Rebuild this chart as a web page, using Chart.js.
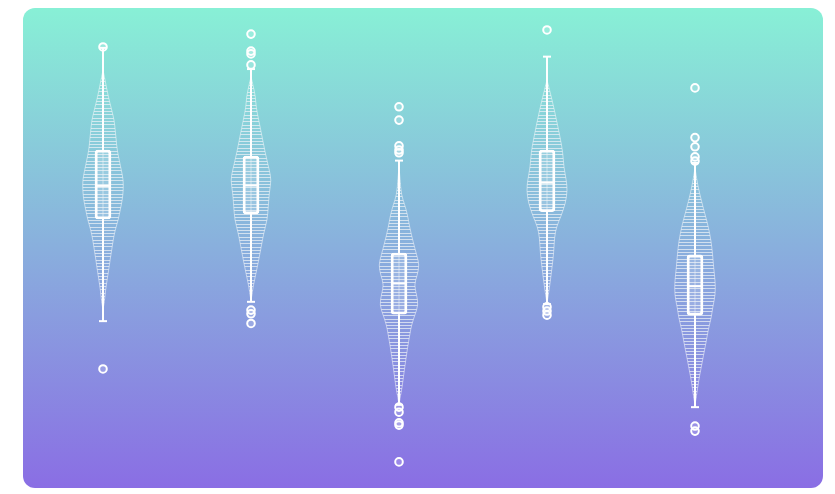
<!DOCTYPE html>
<html>
<head>
<meta charset="utf-8">
<script src="https://cdn.jsdelivr.net/npm/chart.js@4/dist/chart.umd.min.js"></script>
<style>
  html, body { margin: 0; padding: 0; background: #fff; }
  #wrap { width: 835px; height: 494px; }
</style>
</head>
<body>
<div id="wrap"><canvas id="chart"></canvas></div>
<script>
const categories = [0, 1, 2, 3, 4];
const mins = [34.1, 38.3, 15.9, 37.8, 15.4];
const q1s = [56.3, 57.4, 35.6, 57.9, 35.4];
const medians = [63.5, 63.6, 42.3, 64.2, 41.7];
const q3s = [71.3, 70.0, 48.9, 71.3, 48.5];
const maxs = [93.5, 88.9, 69.0, 91.6, 68.5];
const outliers = [
  [93.7, 23.7],
  [96.5, 92.8, 92.2, 89.8, 36.5, 35.7, 33.6],
  [80.7, 77.8, 72.2, 71.3, 70.7, 15.4, 14.3, 12.0, 11.5, 3.5],
  [97.4, 37.2, 36.3, 35.4],
  [84.8, 74.0, 72.0, 69.8, 68.9, 11.3, 10.2],
];

// violin outlines: value levels and relative density at each level
const violin1Y = [88.7, 86.5, 84.3, 82.2, 80.0, 77.8, 75.7, 73.5, 71.3, 69.1, 67.0, 64.8, 62.6, 60.4, 58.3, 56.1, 53.9, 51.7, 49.6, 47.4, 45.2, 43.0, 40.9, 38.7, 36.5];
const violin1D = [0, 0.1, 0.2, 0.3, 0.43, 0.55, 0.6, 0.65, 0.7, 0.8, 0.9, 1.0, 1.0, 0.95, 0.85, 0.75, 0.6, 0.5, 0.43, 0.35, 0.28, 0.2, 0.13, 0.08, 0];
const violin2Y = [87.2, 85.0, 82.8, 80.7, 77.8, 74.1, 70.7, 67.0, 64.8, 62.0, 58.9, 56.1, 53.3, 50.2, 47.4, 44.6, 41.5, 39.3, 38.5];
const violin2D = [0, 0.12, 0.22, 0.25, 0.38, 0.55, 0.7, 0.9, 1.0, 0.9, 0.85, 0.8, 0.63, 0.5, 0.38, 0.25, 0.1, 0.03, 0];
const violin3Y = [68.0, 64.8, 61.5, 59.4, 57.2, 54.4, 51.3, 48.5, 46.3, 44.1, 42.0, 39.8, 37.6, 35.4, 33.3, 31.1, 28.3, 25.2, 22.4, 19.6, 17.4, 15.9];
const violin3D = [0, 0.05, 0.12, 0.28, 0.42, 0.53, 0.7, 0.87, 1.0, 0.9, 0.75, 0.87, 0.95, 0.78, 0.62, 0.53, 0.42, 0.32, 0.23, 0.15, 0.05, 0];
const violin4Y = [86.5, 82.2, 77.8, 73.5, 70.7, 67.6, 64.8, 62.6, 59.8, 56.7, 54.6, 52.4, 48.9, 45.9, 43.0, 40.2, 38.0];
const violin4D = [0, 0.25, 0.47, 0.67, 0.78, 0.83, 0.95, 1.0, 0.92, 0.67, 0.47, 0.37, 0.33, 0.25, 0.17, 0.08, 0];
const violin5Y = [67.4, 63.7, 60.0, 57.2, 54.4, 51.3, 48.5, 45.7, 42.6, 39.8, 37.0, 34.8, 32.6, 29.6, 26.7, 23.9, 20.9, 18.0, 15.9];
const violin5D = [0, 0.13, 0.33, 0.5, 0.67, 0.8, 0.87, 0.92, 1.0, 1.0, 0.87, 0.8, 0.67, 0.55, 0.42, 0.3, 0.17, 0.08, 0];

const violinLevels = [violin1Y, violin2Y, violin3Y, violin4Y, violin5Y];
const violinDensity = [violin1D, violin2D, violin3D, violin4D, violin5D];
const violinHalfWidth = 0.137; // in category units

const backdrop = {
  id: "backdrop",
  beforeDraw(chart) {
    const ctx = chart.ctx;
    ctx.save();
    const g = ctx.createLinearGradient(0, 8, 0, 488);
    g.addColorStop(0, "#88f0d6");
    g.addColorStop(1, "#8a6ee4");
    ctx.fillStyle = g;
    ctx.beginPath();
    ctx.roundRect(23, 8, 800, 480, 12);
    ctx.fill();
    ctx.restore();
  },
};

// smooth outline through the density points
function tracePath(ctx, pts) {
  ctx.moveTo(pts[0][0], pts[0][1]);
  for (let k = 1; k < pts.length - 1; k++) {
    const mx = (pts[k][0] + pts[k + 1][0]) / 2;
    const my = (pts[k][1] + pts[k + 1][1]) / 2;
    ctx.quadraticCurveTo(pts[k][0], pts[k][1], mx, my);
  }
  const last = pts[pts.length - 1];
  ctx.lineTo(last[0], last[1]);
}

const violinPlugin = {
  id: "violin",
  beforeDatasetsDraw(chart) {
    const { ctx, scales } = chart;
    const x = scales.x, y = scales.y;
    violinLevels.forEach((levels, i) => {
      const dens = violinDensity[i];
      const cx = x.getPixelForValue(categories[i]);
      const left = levels.map((v, k) => [x.getPixelForValue(categories[i] - dens[k] * violinHalfWidth), y.getPixelForValue(v)]);
      const right = levels.map((v, k) => [x.getPixelForValue(categories[i] + dens[k] * violinHalfWidth), y.getPixelForValue(v)]).reverse();
      ctx.save();
      ctx.beginPath();
      tracePath(ctx, left);
      const r0 = right[0];
      ctx.lineTo(r0[0], r0[1]);
      tracePath(ctx, right);
      ctx.closePath();
      ctx.strokeStyle = "rgba(255,255,255,0.5)";
      ctx.lineWidth = 1;
      ctx.stroke();
      ctx.clip();
      ctx.strokeStyle = "rgba(238,242,246,0.72)";
      ctx.beginPath();
      const top = left[0][1], bottom = left[left.length - 1][1];
      for (let py = top + 1.5; py < bottom; py += 3.3) {
        const yy = Math.round(py) + 0.5;
        ctx.moveTo(cx - 30, yy);
        ctx.lineTo(cx + 30, yy);
      }
      ctx.stroke();
      ctx.restore();
    });
  },
};

const whiskerPoints = [];
const whiskerRadius = [];
categories.forEach((c, i) => {
  whiskerPoints.push(
    { x: c, y: mins[i] }, { x: c, y: q1s[i] }, { x: c, y: null },
    { x: c, y: q3s[i] }, { x: c, y: maxs[i] }, { x: c, y: null }
  );
  whiskerRadius.push(4, 0, 0, 0, 4, 0);
});

const outlierPoints = [];
categories.forEach((c, i) => outliers[i].forEach((v) => outlierPoints.push({ x: c, y: v })));

const data = {
  datasets: [
    {
      type: "scatter",
      label: "Outliers",
      data: outlierPoints,
      pointStyle: "circle",
      pointRadius: 3.8,
      pointBorderWidth: 2,
      borderColor: "#ffffff",
      backgroundColor: "rgba(255,255,255,0.15)",
      order: 0,
      clip: false,
    },
    {
      type: "scatter",
      label: "Median",
      data: categories.map((c, i) => ({ x: c, y: medians[i] })),
      pointStyle: "line",
      pointRadius: 8,
      pointBorderWidth: 2,
      borderColor: "#ffffff",
      order: 1,
      clip: false,
    },
    {
      type: "bar",
      label: "Box",
      data: categories.map((c, i) => ({ x: c, y: [q1s[i], q3s[i]] })),
      barThickness: 16,
      borderWidth: 2.2,
      borderRadius: 3,
      borderSkipped: false,
      borderColor: "#ffffff",
      backgroundColor: "rgba(255,255,255,0.14)",
      order: 2,
      clip: false,
    },
    {
      type: "line",
      label: "Whiskers",
      data: whiskerPoints,
      spanGaps: false,
      borderColor: "#ffffff",
      borderWidth: 2,
      pointStyle: "line",
      pointRadius: whiskerRadius,
      pointBorderWidth: 2,
      pointBorderColor: "#ffffff",
      order: 3,
      clip: false,
    },
  ],
};

const config = {
  type: "bar",
  data: data,
  options: {
    responsive: true,
    maintainAspectRatio: false,
    animation: false,
    layout: { padding: { left: 29, right: 66, top: 18, bottom: 16 } },
    plugins: {
      legend: { display: false },
      tooltip: { enabled: false },
    },
    scales: {
      x: { type: "linear", min: -0.5, max: 4.5, offset: false, display: false },
      y: { type: "linear", min: 0, max: 100, display: false },
    },
  },
  plugins: [backdrop, violinPlugin],
};

const ctx = document.getElementById("chart").getContext("2d");
const chart = new Chart(ctx, config);
</script>
</body>
</html>
